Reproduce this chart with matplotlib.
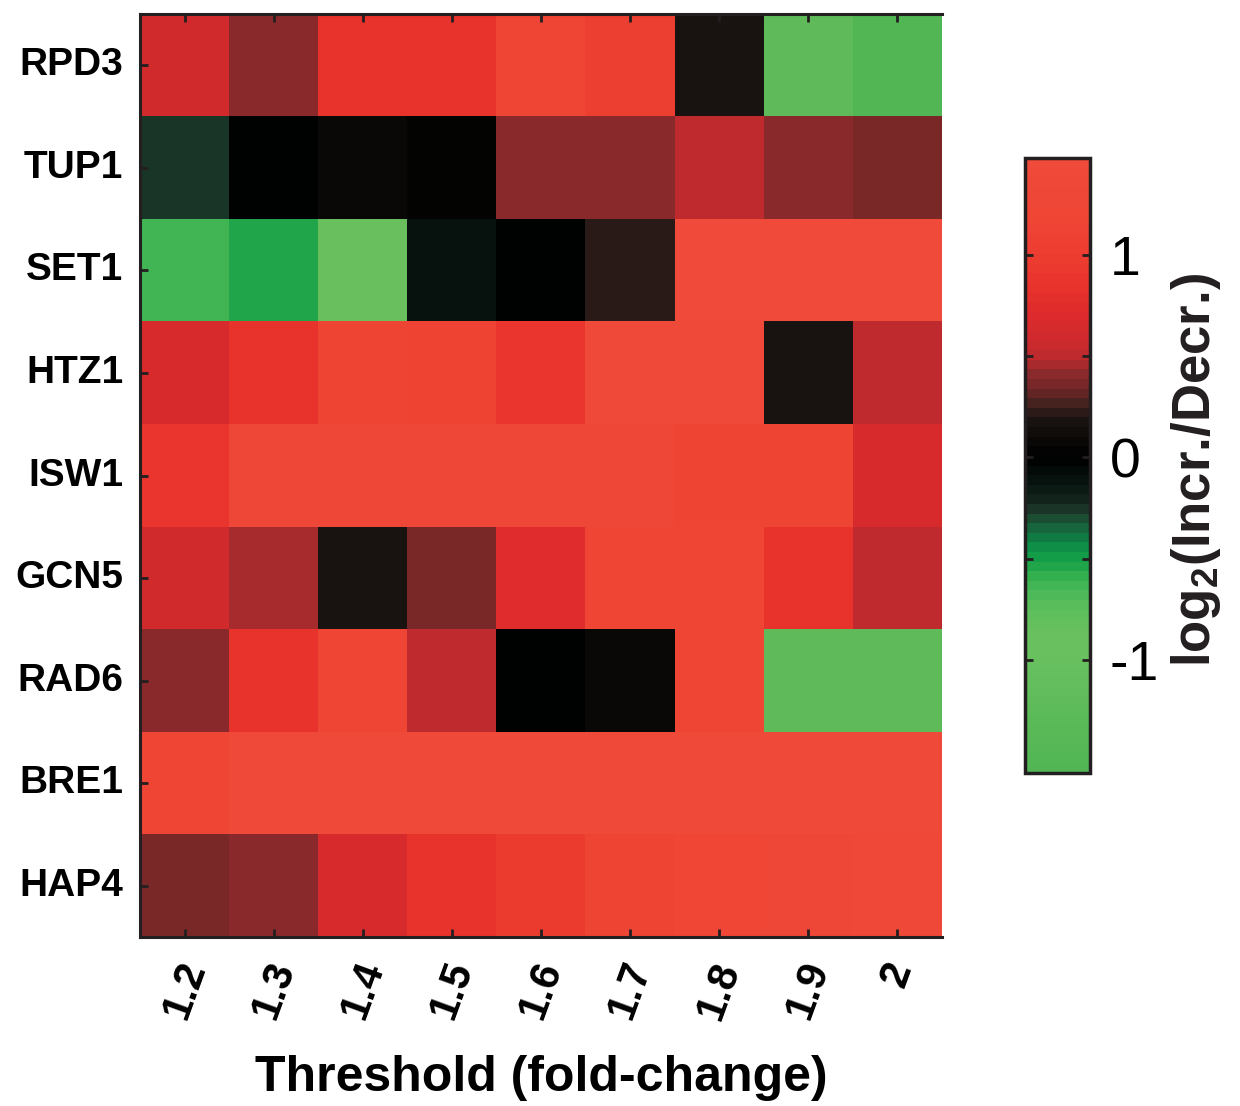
import numpy as np
import matplotlib
matplotlib.use("Agg")
import matplotlib.pyplot as plt
from matplotlib.colors import LinearSegmentedColormap, Normalize

plt.rcParams['font.family'] = ['Liberation Sans', 'DejaVu Sans']
plt.rcParams['mathtext.fontset'] = 'custom'
plt.rcParams['mathtext.rm'] = 'Liberation Sans:bold'
plt.rcParams['mathtext.default'] = 'rm'
plt.rcParams['axes.unicode_minus'] = False

genes = ["RPD3", "TUP1", "SET1", "HTZ1", "ISW1", "GCN5", "RAD6", "BRE1", "HAP4"]
thresholds = ["1.2", "1.3", "1.4", "1.5", "1.6", "1.7", "1.8", "1.9", "2"]

rpd3 = [0.60, 0.42, 0.85, 0.85, 1.20, 1.05, 0.17, -1.20, -1.56]
tup1 = [-0.27, 0.00, 0.10, 0.01, 0.42, 0.42, 0.50, 0.42, 0.35]
set1 = [-0.62, -0.55, -0.90, -0.10, -0.01, 0.22, 1.48, 1.48, 1.48]
htz1 = [0.65, 0.85, 1.15, 1.10, 0.90, 1.40, 1.40, 0.17, 0.50]
isw1 = [0.90, 1.30, 1.30, 1.30, 1.30, 1.30, 1.15, 1.15, 0.65]
gcn5 = [0.58, 0.46, 0.17, 0.35, 0.75, 1.20, 1.20, 0.85, 0.50]
rad6 = [0.42, 0.85, 1.20, 0.50, 0.00, 0.10, 1.20, -1.20, -1.20]
bre1 = [1.20, 1.40, 1.40, 1.40, 1.40, 1.40, 1.40, 1.40, 1.40]
hap4 = [0.35, 0.42, 0.65, 0.85, 1.00, 1.15, 1.25, 1.30, 1.35]

data = np.array([rpd3, tup1, set1, htz1, isw1, gcn5, rad6, bre1, hap4])

vmin, vmax = -1.56, 1.48
anchor_vals = [-1.56, -1.3, -1.1, -0.9, -0.75, -0.62, -0.55, -0.48, -0.4, -0.33,
               -0.27, -0.2, -0.1, 0.0, 0.1, 0.2, 0.28, 0.35, 0.42, 0.5,
               0.6, 0.7, 0.85, 1.0, 1.2, 1.48]
anchor_cols = ["#52b655", "#5cba58", "#66bf5e", "#6ac05e", "#5cbe5c", "#3cb453",
               "#22a64b", "#0e9a48", "#0f7a42", "#1a5a3a", "#1c3a2a", "#10201a",
               "#06100c", "#000000", "#0c0a08", "#1c1614", "#4a2420", "#722626",
               "#8b2a2c", "#bc2a2e", "#d02a2e", "#dc2a2c", "#e8322c", "#ec3c30",
               "#ef4535", "#f04a3a"]
pos = [(v - vmin) / (vmax - vmin) for v in anchor_vals]
cmap = LinearSegmentedColormap.from_list("gkr", list(zip(pos, anchor_cols)), N=64)
norm = Normalize(vmin=vmin, vmax=vmax)

fig = plt.figure(figsize=(12.4, 11.06), dpi=100)
ax = fig.add_axes([140/1240, 1 - 937/1106, 802/1240, 923/1106])
im = ax.imshow(data, cmap=cmap, norm=norm, aspect='auto', interpolation='nearest')

ax.set_xticks(np.arange(len(thresholds)))
ax.set_xticklabels(thresholds, rotation=70, ha='center', va='top',
                   fontsize=30, fontweight='bold')
ax.set_yticks(np.arange(len(genes)))
ax.set_yticklabels(genes, fontsize=28, fontweight='bold', va='center')
ax.tick_params(axis='both', direction='in', length=6, width=2, color='#231f20',
               top=True, bottom=True, left=True, right=False)
ax.tick_params(axis='x', pad=14)
ax.tick_params(axis='y', pad=12)
for s in ['top', 'bottom', 'left']:
    ax.spines[s].set_linewidth(2.2)
    ax.spines[s].set_color('#231f20')
ax.spines['right'].set_visible(False)
ax.set_xlabel("Threshold (fold-change)", fontsize=36, fontweight='bold', labelpad=22)

cax = fig.add_axes([1025/1240, 1 - 773/1106, 65/1240, 615/1106])
cb = fig.colorbar(im, cax=cax)
cb.set_ticks([-1, -0.5, 0, 0.5, 1])
cb.set_ticklabels(["-1", "", "0", "", "1"])
cax.tick_params(axis='y', direction='in', length=6, width=2, color='#231f20',
                left=True, right=True, labelsize=40, pad=14)
cb.outline.set_linewidth(2.5)
cb.outline.set_edgecolor('#231f20')

fig.text(1196/1240, 1 - 470/1106, r"log$_2$(Incr./Decr.)", rotation=90,
         ha='center', va='center', fontsize=38, fontweight='bold', color='#231f20')

fig.savefig("out.png", dpi=100)
